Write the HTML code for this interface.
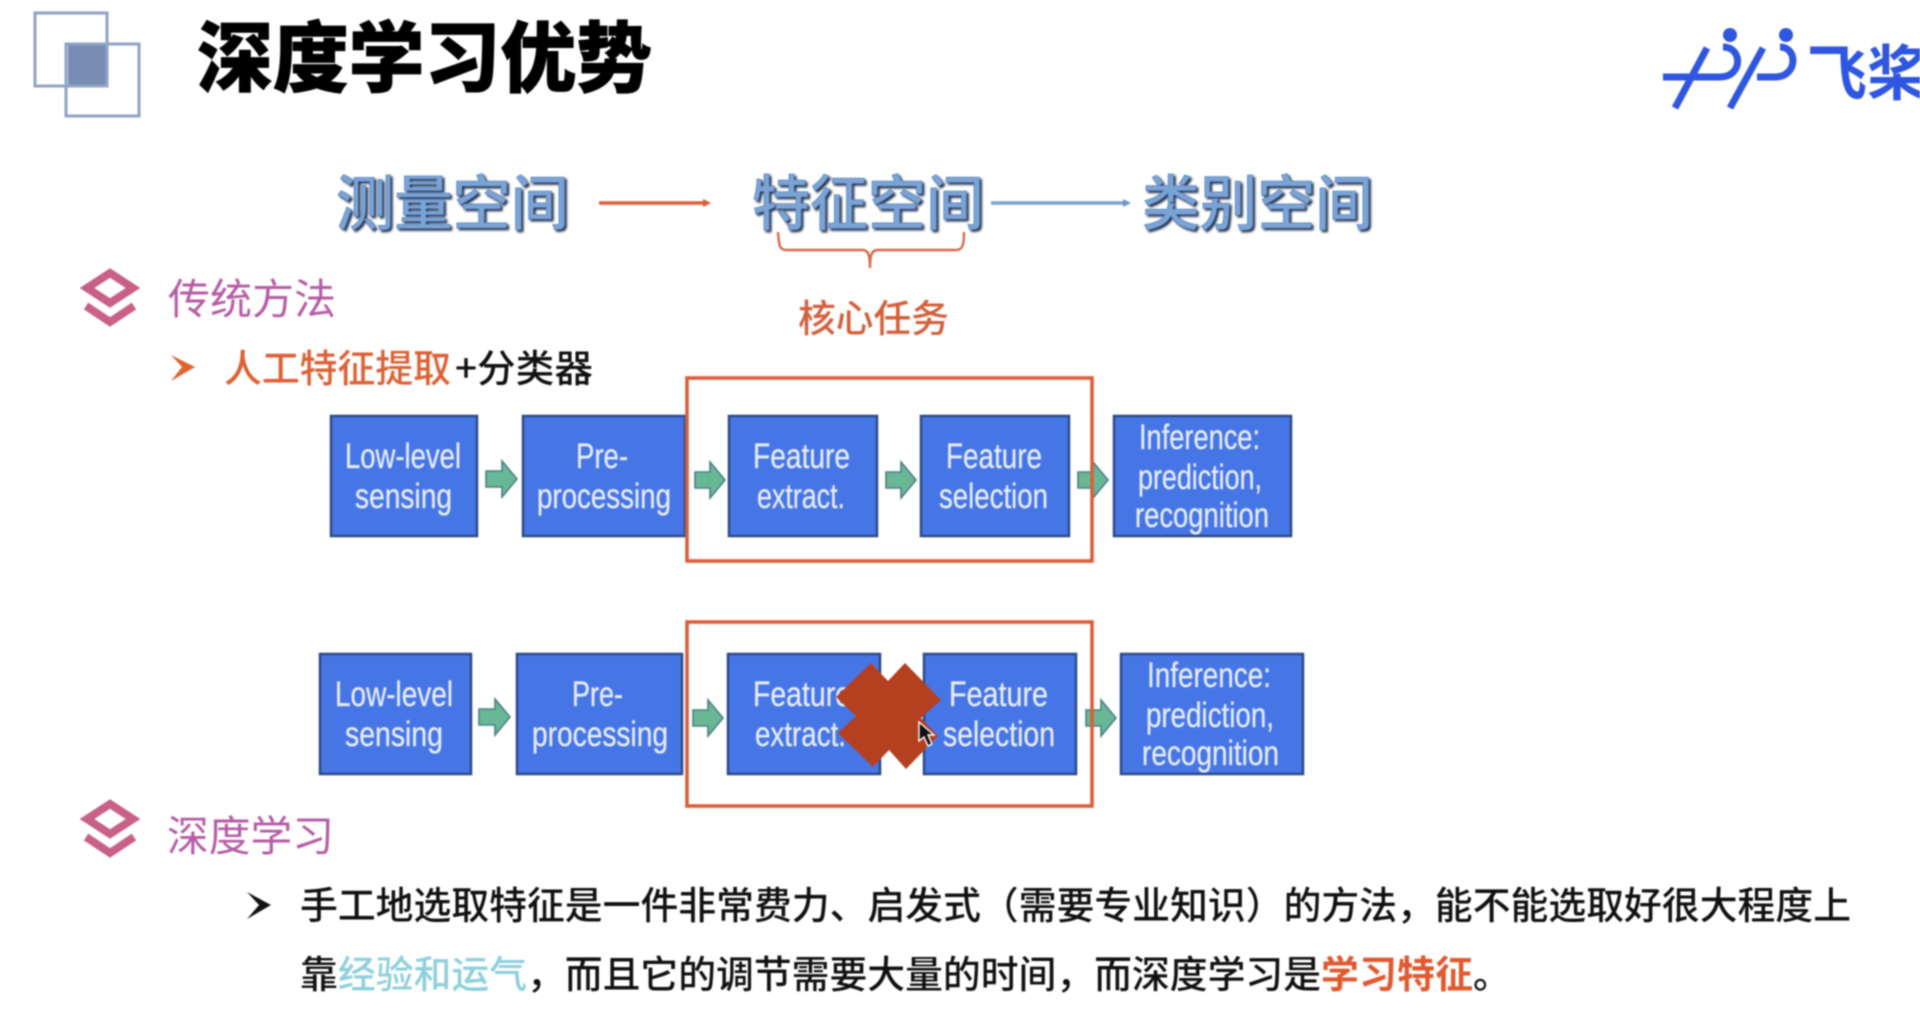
<!DOCTYPE html>
<html lang="zh">
<head>
<meta charset="utf-8">
<title>深度学习优势</title>
<style>
html,body{margin:0;padding:0;background:#fff;width:1920px;height:1020px;overflow:hidden}
svg{display:block;filter:blur(0.8px)}
text{font-family:"Liberation Sans","Noto Sans CJK SC",sans-serif}
.cjk{font-family:"Noto Sans CJK SC","Liberation Sans",sans-serif}
.sp{font-size:60px;font-weight:500;fill:#7aa3d6;stroke:#4f7ab2;stroke-width:.6px;filter:drop-shadow(2px 2px 1px #1f2f4c)}
.bx{fill:#4676e6;stroke:#2c4a88;stroke-width:2.5}
.t{font-size:35px;fill:#e6ebf8;stroke:#e6ebf8;stroke-width:.3px}
.ar{fill:#68b896;stroke:#4b7f88;stroke-width:1.6}
.frame{fill:none;stroke:#da5f3a;stroke-width:3.6}
.head{font-size:42px;fill:#b65ca6}
.b{font-size:37.8px;fill:#111;font-weight:500}
</style>
</head>
<body>
<svg width="1920" height="1020" viewBox="0 0 1920 1020" xmlns="http://www.w3.org/2000/svg">
<rect width="1920" height="1020" fill="#fff"/>

<!-- corner icon -->
<rect x="68" y="44" width="39" height="42" fill="#778db2"/>
<rect x="35" y="13" width="72" height="73" fill="none" stroke="#8fa3c4" stroke-width="3"/>
<rect x="66" y="44" width="73" height="72" fill="none" stroke="#8fa3c4" stroke-width="3"/>

<!-- title -->
<text class="cjk" x="197" y="86" font-size="77" font-weight="900" fill="#000" stroke="#000" stroke-width=".8" textLength="455" lengthAdjust="spacingAndGlyphs">深度学习优势</text>

<!-- logo -->
<g fill="none" stroke="#2f56e0" stroke-width="7">
<path d="M1707 48L1675 108"/>
<path d="M1763 48L1730 108"/>
<path d="M1723 47C1743 47 1743 77 1720 77L1663 77"/>
<path d="M1780 47C1798 47 1798 77 1775 77L1757 77"/>
</g>
<circle cx="1730" cy="35" r="7" fill="#2f56e0"/>
<circle cx="1786" cy="35" r="7" fill="#2f56e0"/>
<text class="cjk" x="1807" y="95" font-size="60" font-weight="700" fill="#2f56e0">飞桨</text>

<!-- spaces -->
<text class="cjk sp" x="336" y="225" textLength="233" lengthAdjust="spacingAndGlyphs">测量空间</text>
<text class="cjk sp" x="752" y="225" textLength="232" lengthAdjust="spacingAndGlyphs">特征空间</text>
<text class="cjk sp" x="1142" y="225" textLength="231" lengthAdjust="spacingAndGlyphs">类别空间</text>

<path d="M599 203H705" stroke="#d9603c" stroke-width="3.4" fill="none"/>
<polygon points="703,199 711,203 703,207" fill="#d9603c"/>
<path d="M991 203H1124" stroke="#7ba2cf" stroke-width="3.4" fill="none"/>
<polygon points="1123,199 1131,203 1123,207" fill="#6f96c6"/>

<!-- bracket -->
<path d="M778 232C779 244 779 250 786 250H862C868 250 870 254 870 268C870 254 872 250 878 250H956C963 250 964 244 964 232" fill="none" stroke="#d9694a" stroke-width="2.4"/>
<text class="cjk" x="798" y="332" font-size="38" font-weight="500" fill="#d4603c" textLength="151" lengthAdjust="spacingAndGlyphs">核心任务</text>

<!-- section icon 1 -->
<g fill="none" stroke="#c96088" stroke-width="8">
<polygon points="110,273 133,288 110,303 87,288"/>
<path d="M86 306L110 322L134 306"/>
</g>
<text class="cjk head" x="168" y="314" textLength="168" lengthAdjust="spacingAndGlyphs">传统方法</text>

<!-- sub bullet -->
<polygon points="171,355 195,367 171,381 182,367" fill="#e0632f"/>
<text class="cjk" x="224" y="382" font-size="38" font-weight="500" fill="#de6136" textLength="227" lengthAdjust="spacingAndGlyphs">人工特征提取</text>
<text class="cjk" x="455" y="382" font-size="38" font-weight="500" fill="#111" textLength="138" lengthAdjust="spacingAndGlyphs">+分类器</text>

<!-- row 1 boxes -->
<rect class="bx" x="331" y="416" width="146" height="120"/>
<rect class="bx" x="523" y="416" width="162" height="120"/>
<rect class="bx" x="729" y="416" width="148" height="120"/>
<rect class="bx" x="921" y="416" width="148" height="120"/>
<rect class="bx" x="1114" y="416" width="177" height="120"/>

<text class="t" x="345" y="468" textLength="116" lengthAdjust="spacingAndGlyphs">Low-level</text>
<text class="t" x="355" y="508" textLength="97" lengthAdjust="spacingAndGlyphs">sensing</text>
<text class="t" x="576" y="468" textLength="52" lengthAdjust="spacingAndGlyphs">Pre-</text>
<text class="t" x="537" y="508" textLength="134" lengthAdjust="spacingAndGlyphs">processing</text>
<text class="t" x="753" y="468" textLength="97" lengthAdjust="spacingAndGlyphs">Feature</text>
<text class="t" x="757" y="508" textLength="88" lengthAdjust="spacingAndGlyphs">extract.</text>
<text class="t" x="946" y="468" textLength="96" lengthAdjust="spacingAndGlyphs">Feature</text>
<text class="t" x="939" y="508" textLength="109" lengthAdjust="spacingAndGlyphs">selection</text>
<text class="t" x="1139" y="449" textLength="121" lengthAdjust="spacingAndGlyphs">Inference:</text>
<text class="t" x="1138" y="489" textLength="124" lengthAdjust="spacingAndGlyphs">prediction,</text>
<text class="t" x="1135" y="527" textLength="134" lengthAdjust="spacingAndGlyphs">recognition</text>

<!-- row 1 arrows -->
<polygon class="ar" transform="translate(486,461)" points="0,10 16,10 16,0 31,18 16,36 16,26 0,26"/>
<polygon class="ar" transform="translate(695,462)" points="0,10 15,10 15,0 30,18 15,36 15,26 0,26"/>
<polygon class="ar" transform="translate(886,462)" points="0,10 15,10 15,0 30,18 15,36 15,26 0,26"/>
<polygon class="ar" transform="translate(1078,462)" points="0,10 15,10 15,0 30,18 15,36 15,26 0,26"/>

<rect class="frame" x="687" y="378" width="405" height="183"/>

<!-- row 2 boxes -->
<rect class="bx" x="320" y="654" width="151" height="120"/>
<rect class="bx" x="517" y="654" width="165" height="120"/>
<rect class="bx" x="728" y="654" width="152" height="120"/>
<rect class="bx" x="924" y="654" width="152" height="120"/>
<rect class="bx" x="1121" y="654" width="182" height="120"/>

<text class="t" x="335" y="706" textLength="118" lengthAdjust="spacingAndGlyphs">Low-level</text>
<text class="t" x="345" y="746" textLength="98" lengthAdjust="spacingAndGlyphs">sensing</text>
<text class="t" x="572" y="706" textLength="51" lengthAdjust="spacingAndGlyphs">Pre-</text>
<text class="t" x="532" y="746" textLength="136" lengthAdjust="spacingAndGlyphs">processing</text>
<text class="t" x="753" y="706" textLength="98" lengthAdjust="spacingAndGlyphs">Feature</text>
<text class="t" x="755" y="746" textLength="91" lengthAdjust="spacingAndGlyphs">extract.</text>
<text class="t" x="949" y="706" textLength="99" lengthAdjust="spacingAndGlyphs">Feature</text>
<text class="t" x="943" y="746" textLength="112" lengthAdjust="spacingAndGlyphs">selection</text>
<text class="t" x="1147" y="687" textLength="124" lengthAdjust="spacingAndGlyphs">Inference:</text>
<text class="t" x="1146" y="727" textLength="128" lengthAdjust="spacingAndGlyphs">prediction,</text>
<text class="t" x="1142" y="765" textLength="137" lengthAdjust="spacingAndGlyphs">recognition</text>

<!-- row 2 arrows -->
<polygon class="ar" transform="translate(479,699)" points="0,10 16,10 16,0 31,18 16,36 16,26 0,26"/>
<polygon class="ar" transform="translate(693,700)" points="0,10 15,10 15,0 30,18 15,36 15,26 0,26"/>
<polygon class="ar" transform="translate(1086,700)" points="0,10 15,10 15,0 30,18 15,36 15,26 0,26"/>

<rect class="frame" x="687" y="622" width="405" height="184"/>

<!-- red cross -->
<polygon points="871,663 888,681 905,663 941,700 921,718 938,736 906,769 889,750 873,767 838,733 856,716 836,697" fill="#b5401f"/>

<!-- cursor -->
<path d="M919 722L919 741L924 737L928 746L932 744L928 735L934 735Z" fill="#111" stroke="#fff" stroke-width="1.4"/>

<!-- section icon 2 -->
<g fill="none" stroke="#c96088" stroke-width="8">
<polygon points="110,804 133,819 110,834 87,819"/>
<path d="M86 837L110 853L134 837"/>
</g>
<text class="cjk head" x="167" y="851" textLength="167" lengthAdjust="spacingAndGlyphs">深度学习</text>

<!-- body -->
<polygon points="247,892 271,905 247,919 259,905" fill="#111"/>
<text class="cjk b" x="300" y="919" textLength="1551" lengthAdjust="spacing">手工地选取特征是一件非常费力、启发式（需要专业知识）的方法，能不能选取好很大程度上</text>
<text class="cjk b" x="300" y="988">靠</text>
<text class="cjk b" x="338" y="988" style="fill:#8fd0dc">经验和运气</text>
<text class="cjk b" x="527" y="988" textLength="794" lengthAdjust="spacing">，而且它的调节需要大量的时间，而深度学习是</text>
<text class="cjk b" x="1321" y="988" style="fill:#e2582f;font-weight:700" textLength="152" lengthAdjust="spacing">学习特征</text>
<text class="cjk b" x="1473" y="988">。</text>
</svg>
</body>
</html>
